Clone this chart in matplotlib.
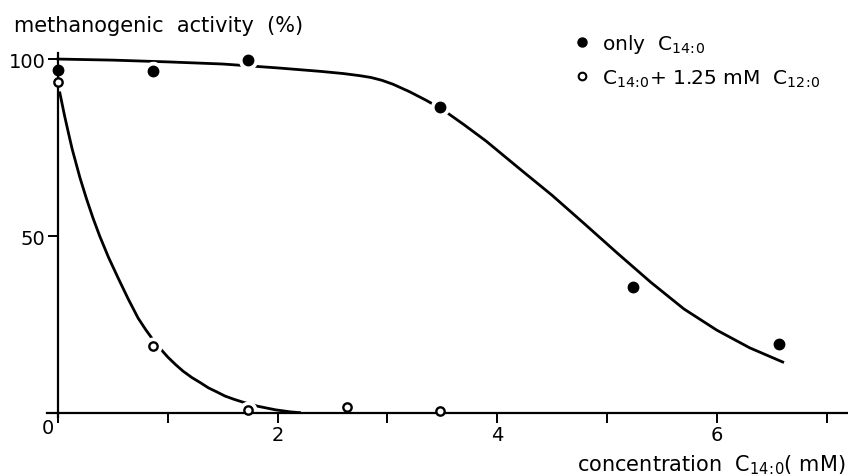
import numpy as np
import matplotlib
matplotlib.use("Agg")
import matplotlib.pyplot as plt
from matplotlib.lines import Line2D

plt.rcParams['font.family'] = ['DejaVu Sans']
plt.rcParams['mathtext.default'] = 'regular'

# measured points, only C14:0
conc_only = [0.0, 0.87, 1.73, 3.48, 5.24, 6.57]
act_only = [96.9, 96.6, 99.7, 86.4, 35.6, 19.5]

# measured points, C14:0 + 1.25 mM C12:0
conc_mix = [0.0, 0.87, 1.73, 2.63, 3.48]
act_mix = [93.6, 18.9, 0.8, 1.7, 0.6]

# hand drawn curves
curve_only_x = [0, 0.5, 1.0, 1.5, 2.0, 2.4, 2.6, 2.75, 2.85, 2.95, 3.05, 3.2, 3.35, 3.5,
                3.7, 3.9, 4.2, 4.5, 4.8, 5.1, 5.4, 5.7, 6.0, 6.3, 6.6]
curve_only_y = [100, 99.7, 99.2, 98.6, 97.5, 96.5, 95.9, 95.3, 94.8, 94.0, 92.9, 90.8, 88.4, 85.8,
                81.4, 76.8, 69.1, 61.5, 53.3, 45.0, 36.9, 29.4, 23.4, 18.4, 14.4]
curve_mix_x = [0.0, 0.03, 0.06, 0.1, 0.13, 0.2, 0.26, 0.32, 0.38, 0.46, 0.55, 0.64,
               0.73, 0.8, 0.87, 0.94, 1.0, 1.07, 1.14, 1.22, 1.3, 1.37, 1.45, 1.52,
               1.6, 1.68, 1.75, 1.82, 1.9, 1.98, 2.05, 2.12, 2.2]
curve_mix_y = [93.0, 88.5, 84.0, 78.5, 74.5, 66.5, 60.5, 55.0, 50.0, 44.0, 38.0, 32.2,
               26.8, 23.5, 20.5, 17.9, 15.8, 13.7, 11.8, 10.0, 8.5, 7.1, 5.9, 4.8,
               3.9, 3.1, 2.5, 1.9, 1.4, 0.9, 0.6, 0.3, 0.1]

xticks = [0, 1, 2, 3, 4, 5, 6, 7]
xticklabels = ['', '', '2', '', '4', '', '6', '']
yticks = [50, 100]
yticklabels = ['50', '100']

fig = plt.figure(figsize=(8.48, 4.77), dpi=100)
ax = fig.add_axes([0.0554, 0.1247, 0.9453, 0.762])

ax.plot(curve_only_x, curve_only_y, color='black', lw=2.0, zorder=1)
ax.plot(curve_mix_x, curve_mix_y, color='black', lw=2.0, zorder=1)

# white halos so the curves break around the points
ax.plot(conc_only, act_only, 'o', color='white', ms=13, zorder=1.5)
ax.plot(conc_mix, act_mix, 'o', color='white', ms=12, zorder=1.5)

ax.plot(conc_only, act_only, 'o', color='black', ms=7.5, zorder=3, clip_on=False)
ax.plot(conc_mix, act_mix, 'o', mfc='white', mec='black', mew=1.7, ms=6,
        zorder=3, clip_on=False)

ax.set_xlim(-0.1, 7.2)
ax.set_ylim(-1, 101.7)
ax.spines['left'].set_position(('data', 0))
ax.spines['bottom'].set_position(('data', 0))
ax.spines['right'].set_visible(False)
ax.spines['top'].set_visible(False)
for s in ['left', 'bottom']:
    ax.spines[s].set_linewidth(1.6)

ax.set_xticks(xticks)
ax.set_xticklabels(xticklabels)
ax.set_yticks(yticks)
ax.set_yticklabels(yticklabels)
ax.tick_params(direction='out', length=7, width=1.4, labelsize=14, pad=2)

ax.text(-0.035, -1.5, '0', ha='right', va='top', fontsize=14)

fig.text(0.0165, 0.933, 'methanogenic  activity  (%)', fontsize=15,
         ha='left', va='baseline')
fig.text(0.997, 0.012, r'concentration  C$_{14\!:\!0}$( mM)', fontsize=15,
         ha='right', va='baseline')

handles = [Line2D([], [], ls='', marker='o', color='black', ms=6.5),
           Line2D([], [], ls='', marker='o', mfc='white', mec='black', mew=1.5, ms=5.5)]
labels = [r'only  C$_{14\!:\!0}$', r'C$_{14\!:\!0}$+ 1.25 mM  C$_{12\!:\!0}$']
fig.legend(handles, labels, loc='upper left', bbox_to_anchor=(0.677, 0.93),
           frameon=False, fontsize=14.5, handlelength=0.8, handletextpad=0.6,
           labelspacing=0.6, borderpad=0, borderaxespad=0)

fig.savefig('out.png', dpi=100)
